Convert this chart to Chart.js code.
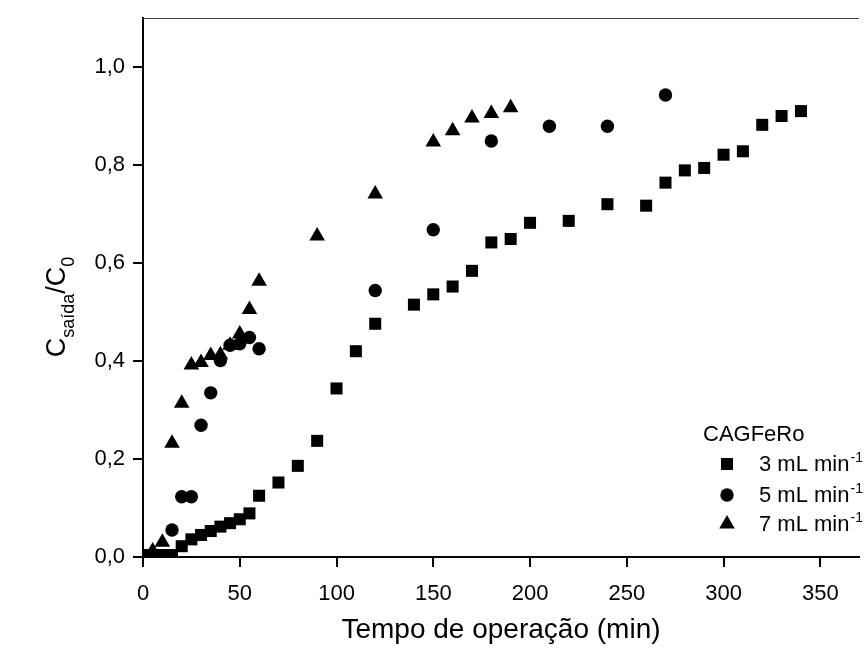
<!DOCTYPE html>
<html lang="pt">
<head>
<meta charset="utf-8">
<title>CAGFeRo</title>
<script src="https://cdn.jsdelivr.net/npm/chart.js@4.4.1/dist/chart.umd.min.js"></script>
<style>
  html, body { margin: 0; padding: 0; background: #fff; }
</style>
</head>
<body>
<canvas id="myChart" width="868" height="651"></canvas>

<script>
// tempo (min) e C/C0 para cada vazão
var t3 = [0, 5, 10, 15, 20, 25, 30, 35, 40, 45, 50, 55, 60, 70, 80, 90, 100, 110, 120,
          140, 150, 160, 170, 180, 190, 200, 220, 240, 260, 270, 280, 290, 300, 310, 320, 330, 340];
var c3 = [0.004, 0.004, 0.004, 0.004, 0.022, 0.036, 0.045, 0.053, 0.062, 0.069, 0.077, 0.089, 0.125,
          0.152, 0.186, 0.237, 0.344, 0.420, 0.476, 0.515, 0.536, 0.552, 0.584, 0.642, 0.649, 0.682,
          0.686, 0.720, 0.717, 0.764, 0.789, 0.794, 0.821, 0.828, 0.882, 0.900, 0.910];

var t5 = [0, 15, 20, 25, 30, 35, 40, 45, 50, 55, 60, 120, 150, 180, 210, 240, 270];
var c5 = [0, 0.055, 0.123, 0.123, 0.269, 0.335, 0.401, 0.432, 0.435, 0.448, 0.425, 0.544, 0.668,
          0.849, 0.879, 0.879, 0.943];

var t7 = [5, 10, 15, 20, 25, 30, 35, 40, 45, 50, 55, 60, 90, 120, 150, 160, 170, 180, 190];
var c7 = [0.012, 0.030, 0.232, 0.314, 0.392, 0.397, 0.411, 0.413, 0.432, 0.455, 0.505, 0.563,
          0.655, 0.741, 0.847, 0.870, 0.896, 0.905, 0.917];

var seriesNames = ['3 mL min', '5 mL min', '7 mL min'];
var seriesSup = '-1';
var legendTitle = 'CAGFeRo';
var xTitle = 'Tempo de operação (min)';
var yTitleParts = ['C', 'saída', '/', 'C', '0'];   // C_saída / C_0

var FONT = "'Liberation Sans', Arial, sans-serif";

function pts(xs, ys) {
    var out = [];
    for (var i = 0; i < xs.length; i++) { out.push({x: xs[i], y: ys[i]}); }
    return out;
}

var pointStyles = ['rect', 'circle', 'triangle'];
var pointSizes = [8.5, 6.7, 9];

// small marker drawer for the legend (same shapes as chart.js)
function marker(ctx, style, r, x, y) {
    ctx.beginPath();
    if (style === 'rect') {
        var s = Math.SQRT1_2 * r;
        ctx.rect(x - s, y - s, 2 * s, 2 * s);
    } else if (style === 'circle') {
        ctx.arc(x, y, r, 0, Math.PI * 2);
    } else {
        ctx.moveTo(x, y - r);
        ctx.lineTo(x + 0.866 * r, y + 0.5 * r);
        ctx.lineTo(x - 0.866 * r, y + 0.5 * r);
        ctx.closePath();
    }
    ctx.fill();
}

var extras = {
    id: 'extras',
    afterDraw: function(chart) {
        var ctx = chart.ctx;
        var a = chart.chartArea;
        var xs = chart.scales.x, ys = chart.scales.y;
        ctx.save();

        // top frame line
        ctx.strokeStyle = '#444';
        ctx.lineWidth = 1;
        ctx.beginPath();
        ctx.moveTo(a.left, a.top + 0.5);
        ctx.lineTo(a.right, a.top + 0.5);
        ctx.stroke();

        // tick marks, major and minor, pointing out
        ctx.strokeStyle = '#000';
        ctx.lineWidth = 2;
        xs.ticks.forEach(function(t) {
            var v = t.value;
            if (Math.abs(v / 25 - Math.round(v / 25)) > 1e-6) return;
            var major = Math.round(v) % 50 === 0;
            var px = Math.round(xs.getPixelForValue(v));
            ctx.beginPath();
            ctx.moveTo(px, a.bottom);
            ctx.lineTo(px, a.bottom + (major ? 10 : 5));
            ctx.stroke();
        });
        ys.ticks.forEach(function(t) {
            var v = t.value;
            var k = Math.round(v * 10);
            if (Math.abs(v * 10 - k) > 1e-6) return;
            var major = k % 2 === 0;
            var py = Math.round(ys.getPixelForValue(v));
            ctx.beginPath();
            ctx.moveTo(a.left, py);
            ctx.lineTo(a.left - (major ? 10 : 5), py);
            ctx.stroke();
        });

        // y title with subscripts, rotated
        ctx.fillStyle = '#000';
        ctx.textBaseline = 'alphabetic';
        ctx.textAlign = 'left';
        var parts = [
            {t: yTitleParts[0], size: 27, dy: 0},
            {t: yTitleParts[1], size: 18, dy: 9},
            {t: yTitleParts[2], size: 27, dy: 0},
            {t: yTitleParts[3], size: 27, dy: 0},
            {t: yTitleParts[4], size: 18, dy: 9}
        ];
        var total = 0;
        parts.forEach(function(p) {
            ctx.font = p.size + 'px ' + FONT;
            p.w = ctx.measureText(p.t).width;
            total += p.w;
        });
        ctx.save();
        ctx.translate(65, 307);
        ctx.rotate(-Math.PI / 2);
        var cx = -total / 2;
        parts.forEach(function(p) {
            ctx.font = p.size + 'px ' + FONT;
            ctx.fillText(p.t, cx, p.dy);
            cx += p.w;
        });
        ctx.restore();

        // legend
        ctx.font = '22px ' + FONT;
        ctx.fillText(legendTitle, 703, 441);
        var rowY = [464, 495, 524];
        for (var i = 0; i < seriesNames.length; i++) {
            marker(ctx, pointStyles[i], pointSizes[i], 727, rowY[i]);
            ctx.font = '22px ' + FONT;
            ctx.fillText(seriesNames[i], 759, rowY[i] + 7);
            var w = ctx.measureText(seriesNames[i]).width;
            ctx.font = '14px ' + FONT;
            ctx.fillText(seriesSup, 759 + w + 1, rowY[i] - 2);
        }
        ctx.restore();
    }
};

var datasets = [
    {label: seriesNames[0], data: pts(t3, c3)},
    {label: seriesNames[1], data: pts(t5, c5)},
    {label: seriesNames[2], data: pts(t7, c7)}
].map(function(d, i) {
    d.pointStyle = pointStyles[i];
    d.pointRadius = pointSizes[i];
    d.pointHoverRadius = pointSizes[i];
    d.backgroundColor = '#000';
    d.borderColor = '#000';
    d.pointBorderWidth = 0;
    d.showLine = false;
    return d;
});

new Chart(document.getElementById('myChart'), {
    type: 'scatter',
    data: {datasets: datasets},
    plugins: [extras],
    options: {
        responsive: false,
        animation: false,
        events: [],
        layout: {padding: {top: 18, right: 0, bottom: 0, left: 0}},
        plugins: {legend: {display: false}, tooltip: {enabled: false}},
        scales: {
            x: {
                type: 'linear',
                min: 0,
                max: 370,
                grid: {display: false},
                border: {display: true, color: '#000', width: 2},
                ticks: {
                    stepSize: 25,
                    includeBounds: false,
                    autoSkip: false,
                    maxRotation: 0,
                    padding: 16,
                    color: '#000',
                    font: {family: FONT, size: 22},
                    callback: function(v) { return (Math.round(v) === v && v % 50 === 0) ? String(v) : null; }
                },
                title: {
                    display: true,
                    text: xTitle,
                    color: '#000',
                    font: {family: FONT, size: 28},
                    padding: {top: 0, bottom: 4}
                },
                afterFit: function(s) { s.height = 94; s.paddingLeft = 0; s.paddingRight = 0; }
            },
            y: {
                type: 'linear',
                min: 0,
                max: 1.1,
                grid: {display: false},
                border: {display: true, color: '#000', width: 2},
                ticks: {
                    stepSize: 0.1,
                    autoSkip: false,
                    padding: 10,
                    color: '#000',
                    font: {family: FONT, size: 22},
                    callback: function(v) {
                        var k = Math.round(v * 10);
                        if (Math.abs(v * 10 - k) > 1e-6 || k % 2 !== 0) return null;
                        return (k / 10).toFixed(1).replace('.', ',');
                    }
                },
                afterFit: function(s) { s.width = 143; s.paddingTop = 0; s.paddingBottom = 0; }
            }
        }
    }
});
</script>
</body>
</html>
